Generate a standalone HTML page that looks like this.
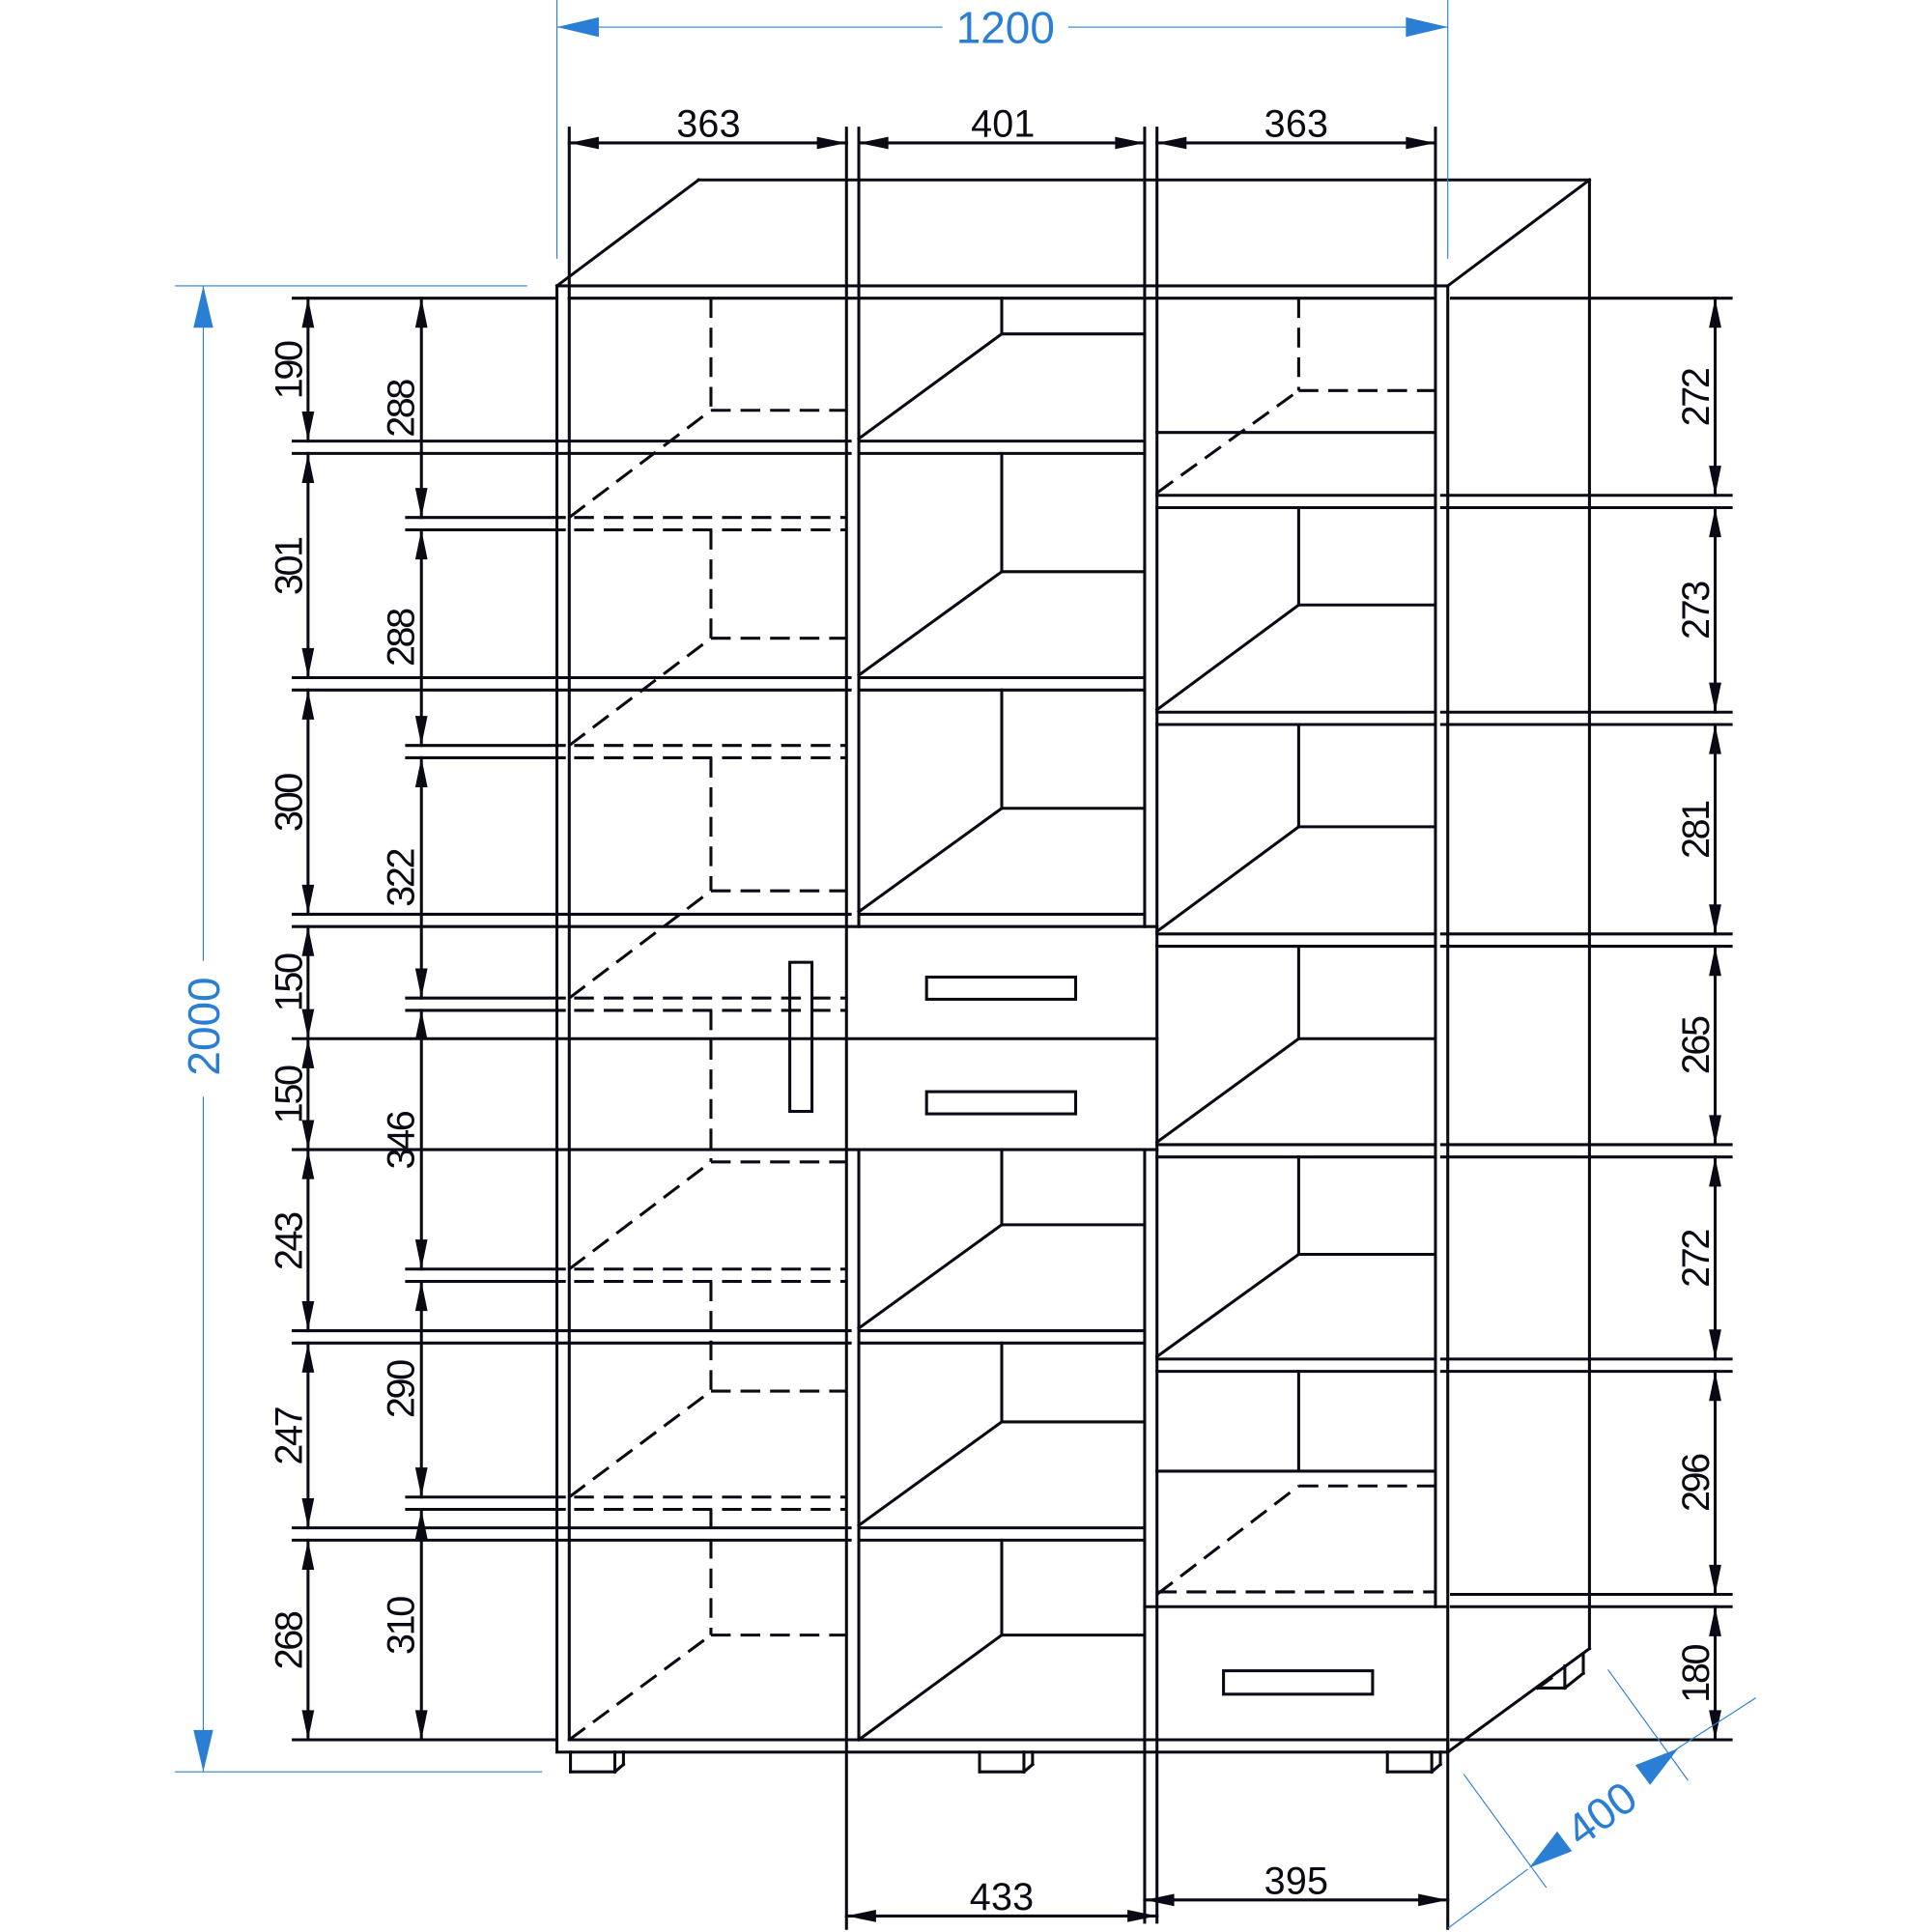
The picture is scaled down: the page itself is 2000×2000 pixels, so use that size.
<!DOCTYPE html>
<html><head><meta charset="utf-8"><style>
html,body{margin:0;padding:0;background:#fff}
svg{display:block}
text{font-family:"Liberation Sans",sans-serif}
</style></head><body>
<svg id="s" width="2000" height="2000" viewBox="0 0 1568 1568" xmlns="http://www.w3.org/2000/svg">
<g id="g" stroke="#0a0a14" stroke-width="2.4" fill="none" stroke-linecap="square"></g>
<g id="b" stroke="#2a7fd4" stroke-width="0.9" fill="#2a7fd4"></g>
<g fill="#0a0a14" font-size="31" text-anchor="middle">
<text x="575" y="111" textLength="52">363</text>
<text x="814" y="111" textLength="52">401</text>
<text x="1052" y="111" textLength="52">363</text>
<text x="813" y="1550" textLength="52">433</text>
<text x="1052" y="1537" textLength="52">395</text>
<text transform="translate(245,300) rotate(-90)" textLength="48">190</text>
<text transform="translate(245,459) rotate(-90)" textLength="48">301</text>
<text transform="translate(245,651) rotate(-90)" textLength="48">300</text>
<text transform="translate(245,797) rotate(-90)" textLength="48">150</text>
<text transform="translate(245,888) rotate(-90)" textLength="48">150</text>
<text transform="translate(245,1007) rotate(-90)" textLength="48">243</text>
<text transform="translate(245,1165) rotate(-90)" textLength="48">247</text>
<text transform="translate(245,1331) rotate(-90)" textLength="48">268</text>
<text transform="translate(336,331) rotate(-90)" textLength="48">288</text>
<text transform="translate(336,517) rotate(-90)" textLength="48">288</text>
<text transform="translate(336,712) rotate(-90)" textLength="48">322</text>
<text transform="translate(336,925) rotate(-90)" textLength="48">346</text>
<text transform="translate(336,1127) rotate(-90)" textLength="48">290</text>
<text transform="translate(336,1319) rotate(-90)" textLength="48">310</text>
<text transform="translate(1387,322) rotate(-90)" textLength="48">272</text>
<text transform="translate(1387,495) rotate(-90)" textLength="48">273</text>
<text transform="translate(1387,673) rotate(-90)" textLength="48">281</text>
<text transform="translate(1387,848) rotate(-90)" textLength="48">265</text>
<text transform="translate(1387,1021) rotate(-90)" textLength="48">272</text>
<text transform="translate(1387,1203) rotate(-90)" textLength="48">296</text>
<text transform="translate(1387,1358) rotate(-90)" textLength="48">180</text>
</g>
<g fill="#2a7fd4" font-size="36" text-anchor="middle">
<rect x="765" y="2" width="102" height="40" fill="#fff"/>
<text x="816" y="35">1200</text>
<rect x="145" y="780" width="40" height="110" fill="#fff"/>
<text transform="translate(178,833) rotate(-90)">2000</text>
<text transform="translate(1307,1482) rotate(-36)">400</text>
</g>
</svg>
<script>
const g=document.getElementById('g'),b=document.getElementById('b');
const NS='http://www.w3.org/2000/svg';
function L(x1,y1,x2,y2,dash,par){const e=document.createElementNS(NS,'line');e.setAttribute('x1',x1);e.setAttribute('y1',y1);e.setAttribute('x2',x2);e.setAttribute('y2',y2);if(dash){e.setAttribute('stroke-dasharray','16 8');e.setAttribute('stroke-linecap','butt');}(par||g).appendChild(e);}
function P(pts,par,fill){const e=document.createElementNS(NS,'polygon');e.setAttribute('points',pts);e.setAttribute('fill',fill||'#0a0a14');e.setAttribute('stroke','none');(par||g).appendChild(e);}
function R(x,y,w,h){const e=document.createElementNS(NS,'rect');e.setAttribute('x',x);e.setAttribute('y',y);e.setAttribute('width',w);e.setAttribute('height',h);g.appendChild(e);}
function arr(x,y,dx,dy,len,w,par,fill){len=len||24;w=w||5;const nx=-dy,ny=dx;P(`${x},${y} ${x-dx*len+nx*w},${y-dy*len+ny*w} ${x-dx*len-nx*w},${y-dy*len-ny*w}`,par,fill);}
function dimV(x,y1,y2){L(x,y1,x,y2);arr(x,y1,0,-1);arr(x,y2,0,1);}
function dimH(y,x1,x2){L(x1,y,x2,y);arr(x1,y,-1,0);arr(x2,y,1,0);}
R(452,232,723,1190);
L(462,242,462,1412);L(1165,242,1165,1304);L(462,242,1165,242);L(462,1412,1175,1412);
L(452,232,567,146);L(567,146,1290,146);L(1175,232,1290,146);L(1290,146,1290,1338);L(1290,1338,1175,1422);
L(687,104,687,1565);L(697,104,697,752);L(697,933,697,1412);
L(929,104,929,752);L(929,933,929,1560);L(939,104,939,1560);
L(462,104,462,242);L(1165,104,1165,242);L(1175,1412,1175,1565);
[242,358,368,550,560,742,752,843,933,1080,1090,1240,1250,1412].forEach(y=>L(238,y,y==242||y==1412?452:(y==752||y==843||y==933?687:690),y));
[358,368,550,560,742,1080,1090,1240,1250].forEach(y=>L(697,y,929,y));
L(687,752,939,752);L(687,843,939,843);L(687,933,939,933);
R(752,793,121,18);R(752,886,121,18);
[[242,271,356],[368,464,548],[560,656,740],[933,994,1078],[1090,1154,1238],[1250,1327,1412]].forEach(([t,y,bt])=>{L(813,t,813,y);L(813,y,929,y);L(697,bt,813,y);});
[420,430,605,615,810,820,1030,1040,1215,1225].forEach(y=>{L(330,y,458,y);L(466,y,687,y,true);});
[[242,333,420],[430,518,605],[615,723,810],[820,943,1030],[1040,1129,1215],[1225,1327,1412]].forEach(([t,y,bt])=>{L(577,t,577,y,true);L(577,y,687,y,true);L(462,bt,577,y,true);});
R(641,781,18,121);
[402,412,578,588,758,768,929,939,1103,1113].forEach(y=>{L(939,y,1165,y);L(1170,y,1405,y);});
L(1178,242,1405,242);L(1178,1294,1405,1294);L(1178,1304,1405,1304);L(1178,1412,1405,1412);
L(939,351,1165,351);
L(1054,242,1054,317,true);L(1054,317,1165,317,true);L(939,400,1054,317,true);
[[412,491,576],[588,671,756],[768,843,927],[939,1018,1101]].forEach(([t,y,bt])=>{L(1054,t,1054,y);L(1054,y,1165,y);L(939,bt,1054,y);});
L(1054,1113,1054,1194);L(939,1194,1165,1194);L(1054,1206,1165,1206,true);L(939,1294,1054,1206,true);L(939,1292,1165,1292,true);
L(929,1304,1175,1304);R(993,1356,121,19);
[[463,499],[795,831],[1126,1162]].forEach(([a,c])=>{L(a,1422,a,1438);L(a,1438,c,1438);L(c,1422,c,1438);L(c,1438,c+7,1432);L(c+7,1432,c+7,1422);});
L(1248,1370,1270,1370);L(1270,1370,1270,1352);L(1270,1370,1285,1358);L(1285,1358,1285,1342);L(1248,1370,1259,1362);
dimH(116,462,687);dimH(116,697,929);dimH(116,939,1165);
dimH(1555,687,939);dimH(1542,929,1175);
dimV(250,242,358);dimV(250,368,550);dimV(250,560,742);dimV(250,752,843);dimV(250,843,933);dimV(250,933,1080);dimV(250,1090,1240);dimV(250,1250,1412);
dimV(342,242,420);dimV(342,430,605);dimV(342,615,810);dimV(342,820,1030);dimV(342,1040,1215);dimV(342,1225,1412);
dimV(1392,242,402);dimV(1392,412,578);dimV(1392,588,758);dimV(1392,768,929);dimV(1392,939,1103);dimV(1392,1113,1294);dimV(1392,1304,1412);
const B='#2a7fd4';
L(452,0,452,210,false,b);L(1175,0,1175,210,false,b);L(452,22,765,22,false,b);L(867,22,1175,22,false,b);
arr(452,22,-1,0,34,8,b,B);arr(1175,22,1,0,34,8,b,B);
L(142,232,428,232,false,b);L(142,1438,440,1438,false,b);L(165,232,165,780,false,b);L(165,890,165,1438,false,b);
arr(165,232,0,-1,34,8,b,B);arr(165,1438,0,1,34,8,b,B);
L(1305,1355,1370,1445,false,b);L(1188,1440,1255,1532,false,b);
L(1175,1565,1240,1517,false,b);L(1360,1420,1425,1378,false,b);
const ux=0.8,uy=-0.6;arr(1362,1419,ux,uy,36,10,b,B);arr(1241,1516,-ux,-uy,36,10,b,B);
</script>
</body></html>
